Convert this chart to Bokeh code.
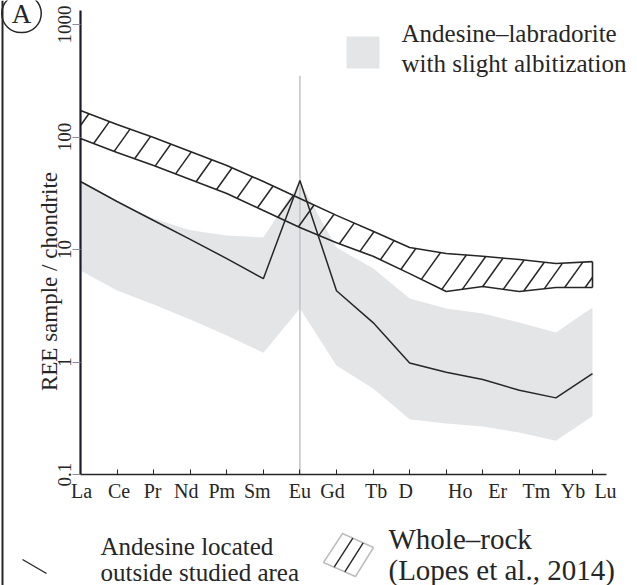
import numpy as np
from bokeh.plotting import figure
from bokeh.models import Range1d, FixedTicker, Label, Arrow, PolyAnnotation, BoxAnnotation
from bokeh.embed import file_html
from bokeh.resources import INLINE

# ---------------- data ----------------
elements = ["La", "Ce", "Pr", "Nd", "Pm", "Sm", "Eu", "Gd", "Tb", "Dy", "Ho", "Er", "Tm", "Yb", "Lu"]
tick_labels = ["La", "Ce", "Pr", "Nd", "Pm", "Sm", "Eu", "Gd", "Tb", "D", "Ho", "Er", "Tm", "Yb", "Lu"]

andesine_outside = [40.2, 26.7, 18.1, 12.3, 8.3, 5.5, 41.0, 4.3, 2.24, 0.98, 0.81, 0.70, 0.56, 0.48, 0.79]
albitized_upper = [41.0, 26.2, 18.9, 14.8, 13.3, 12.8, 40.0, 10.4, 6.8, 3.67, 2.99, 2.70, 2.24, 1.83, 3.05]
albitized_lower = [6.5, 4.32, 3.24, 2.39, 1.72, 1.21, 2.99, 0.93, 0.58, 0.31, 0.284, 0.267, 0.236, 0.20, 0.33]
wholerock_upper = [172, 129, 99, 74.3, 55.8, 40.2, 28.4, 20.1, 14.5, 10.4, 9.2, 8.7, 8.15, 7.5, 7.8]
wholerock_lower = [97, 72.8, 55.8, 41.9, 31.5, 22.2, 15.7, 11.5, 8.7, 6.1, 4.23, 4.69, 4.23, 4.59, 4.59]
eu_line_top = 350

y_ticks = [0.1, 1, 10, 100, 1000]
y_tick_labels = ["0.1", "1", "10", "100", "1000"]
y_title = "REE sample / chondrite"
legend_gray = ["Andesine\u2013labradorite", "with slight albitization"]
legend_line = ["Andesine located", "outside studied area"]
legend_hatch = ["Whole\u2013rock", "(Lopes et al., 2014)"]
panel_letter = "A"

# ---------------- layout / style ----------------
W, H = 637, 585
FL, FR, FT, FB = 80, 606, 10, 474        # plotting-area edges (canvas px)
kx = 36.571                                # px per element step
ky = 112.5                                 # px per decade
x_end = (FR - FL) / kx
y_bottom = 0.1
y_top = 10 ** (np.log10(y_bottom) + (FB - FT) / ky)
SERIF = "Liberation Serif"
INK = "#262626"
GRAY_FILL = "#e4e5e7"

def cx(px):
    return (px - FL) / kx

def cy(py):
    return 10 ** (np.log10(y_bottom) + (FB - py) / ky)

p = figure(width=W, height=H, x_range=Range1d(cx(0), cx(W)), y_range=Range1d(cy(H), cy(0)),
           y_axis_type="log", output_backend="svg", toolbar_location=None, title=None,
           min_border=0, min_border_left=0, min_border_right=0, min_border_top=0, min_border_bottom=0)
p.outline_line_color = None
p.xgrid.visible = False
p.ygrid.visible = False
p.background_fill_color = "white"
p.border_fill_color = "white"

idx = np.arange(len(elements), dtype=float)

# grey field
p.varea(x=idx, y1=albitized_lower, y2=albitized_upper, fill_color=GRAY_FILL)
# Eu line
p.segment(x0=[elements.index("Eu")], y0=[y_bottom], x1=[elements.index("Eu")], y1=[eu_line_top],
          line_color="#c2c3c8", line_width=1.5)
# andesine outside studied area
p.line(idx, andesine_outside, line_color=INK, line_width=1.5)

# whole-rock band outline
p.line(idx, wholerock_upper, line_color=INK, line_width=1.6)
p.line(idx, wholerock_lower, line_color=INK, line_width=1.6)
p.segment(x0=[idx[-1]], y0=[wholerock_lower[-1]], x1=[idx[-1]], y1=[wholerock_upper[-1]],
          line_color=INK, line_width=1.6)

# hatch lines derived from band boundaries
LU = np.log10(wholerock_upper)
LL = np.log10(wholerock_lower)

def lin_ext(t, arr):
    if t < 0:
        return arr[0] + (arr[1] - arr[0]) * t
    if t > idx[-1]:
        return arr[-1] + (arr[-1] - arr[-2]) * (t - idx[-1])
    return float(np.interp(t, idx, arr))

slope = 1.4
hx0, hy0, hx1, hy1 = [], [], [], []
for t0 in np.arange(-0.2, idx[-1], 0.56):
    Y0 = ky * lin_ext(t0, LL)
    ts = np.linspace(t0, t0 + 2.0, 2001)
    Yl = Y0 + slope * kx * (ts - t0)
    Yu = np.array([ky * lin_ext(t, LU) for t in ts])
    hit = np.nonzero(Yl >= Yu)[0]
    if len(hit) == 0:
        continue
    t1, Y1 = ts[hit[0]], Yl[hit[0]]
    ta, Ya = t0, Y0
    if ta < 0:
        ta, Ya = 0.0, Y0 + slope * kx * (0 - t0)
        if Ya >= ky * LU[0]:
            continue
    if t1 > idx[-1]:
        t1, Y1 = idx[-1], Y0 + slope * kx * (idx[-1] - t0)
    hx0.append(ta); hy0.append(10 ** (Ya / ky))
    hx1.append(t1); hy1.append(10 ** (Y1 / ky))
p.segment(x0=hx0, y0=hy0, x1=hx1, y1=hy1, line_color=INK, line_width=1.5)

# ---------------- axes (fixed inside the canvas) ----------------
label_nudge_px = [1, 2, -1, -4, -5, -6, 0, -4, 3, -4, 14, 15, 17, 17, 13]
label_pos = [round(i + nd / kx, 5) for i, nd in enumerate(label_nudge_px)]

xa = p.xaxis[0]
xa.fixed_location = y_bottom
xa.bounds = (0, x_end)
xa.ticker = FixedTicker(ticks=label_pos, minor_ticks=list(idx))
xa.major_label_overrides = {pos: lab for pos, lab in zip(label_pos, tick_labels)}
xa.major_label_text_font = SERIF
xa.major_label_text_font_size = "20px"
xa.major_label_text_color = INK
xa.major_label_standoff = 5
xa.major_tick_in = 0
xa.major_tick_out = 0
xa.minor_tick_in = 5
xa.minor_tick_out = 0
xa.minor_tick_line_color = INK
xa.minor_tick_line_width = 1
xa.axis_line_color = INK
xa.axis_line_width = 1.5

ya = p.yaxis[0]
ya.fixed_location = 0
ya.bounds = (y_bottom, y_top)
ya.ticker = FixedTicker(ticks=y_ticks)
ya.major_label_overrides = {t: l for t, l in zip(y_ticks, y_tick_labels)}
ya.major_label_orientation = "vertical"
ya.major_label_text_font = SERIF
ya.major_label_text_font_size = "19px"
ya.major_label_text_color = INK
ya.major_label_standoff = 2
ya.major_tick_out = 8
ya.major_tick_in = 0
ya.major_tick_line_color = "#8c8c9c"
ya.minor_tick_line_color = None
ya.axis_line_color = "#1b1b2b"
ya.axis_line_width = 2.2

def add_text(px, py_mid, txt, size, align="left", angle=0.0):
    p.add_layout(Label(x=cx(px), y=cy(py_mid), text=txt, angle=angle, text_align=align,
                       text_baseline="middle", text_font=SERIF, text_font_size=f"{size}px",
                       text_color=INK))

# y title
add_text(49, 281, y_title, 23, align="center", angle=np.pi / 2)

# ---------------- legends ----------------
p.add_layout(BoxAnnotation(left=cx(346), right=cx(379), top=cy(36), bottom=cy(68),
                           fill_color=GRAY_FILL, fill_alpha=1, line_color=None))
for k, txt in enumerate(legend_gray):
    add_text(401, 33 + 30 * k, txt, 25)

p.add_layout(Arrow(end=None, x_start=cx(22), y_start=cy(559), x_end=cx(46), y_end=cy(573),
                   line_color=INK, line_width=1.4))
for k, txt in enumerate(legend_line):
    add_text(100, 546 + 26 * k, txt, 25)

TL, TR, BR, BL = (342, 533), (373, 547), (355, 576), (323, 562)
p.add_layout(PolyAnnotation(xs=[cx(q[0]) for q in (TL, TR, BR, BL)],
                            ys=[cy(q[1]) for q in (TL, TR, BR, BL)],
                            fill_alpha=0, line_color=INK, line_width=1.5))
for f in (1 / 3, 2 / 3):
    a = (TL[0] + f * (TR[0] - TL[0]), TL[1] + f * (TR[1] - TL[1]))
    b = (BL[0] + f * (BR[0] - BL[0]), BL[1] + f * (BR[1] - BL[1]))
    p.add_layout(Arrow(end=None, x_start=cx(a[0]), y_start=cy(a[1]), x_end=cx(b[0]), y_end=cy(b[1]),
                       line_color=INK, line_width=1.4))
for k, txt in enumerate(legend_hatch):
    add_text(388, 538 + 31 * k, txt, 29)

# panel letter in circle
p.add_layout(Label(x=cx(21), y=cy(13), text=panel_letter, text_align="center", text_baseline="middle",
                   text_font=SERIF, text_font_size="27px", text_color=INK,
                   border_line_color=INK, border_line_width=1.5, border_radius=19,
                   padding=dict(top=4, right=10, bottom=4, left=10)))

# left panel border
p.add_layout(BoxAnnotation(left=cx(1), right=cx(3), top=cy(0), bottom=cy(H),
                           fill_color=INK, fill_alpha=1, line_color=None))

open("out.html", "w").write(file_html(p, INLINE))
